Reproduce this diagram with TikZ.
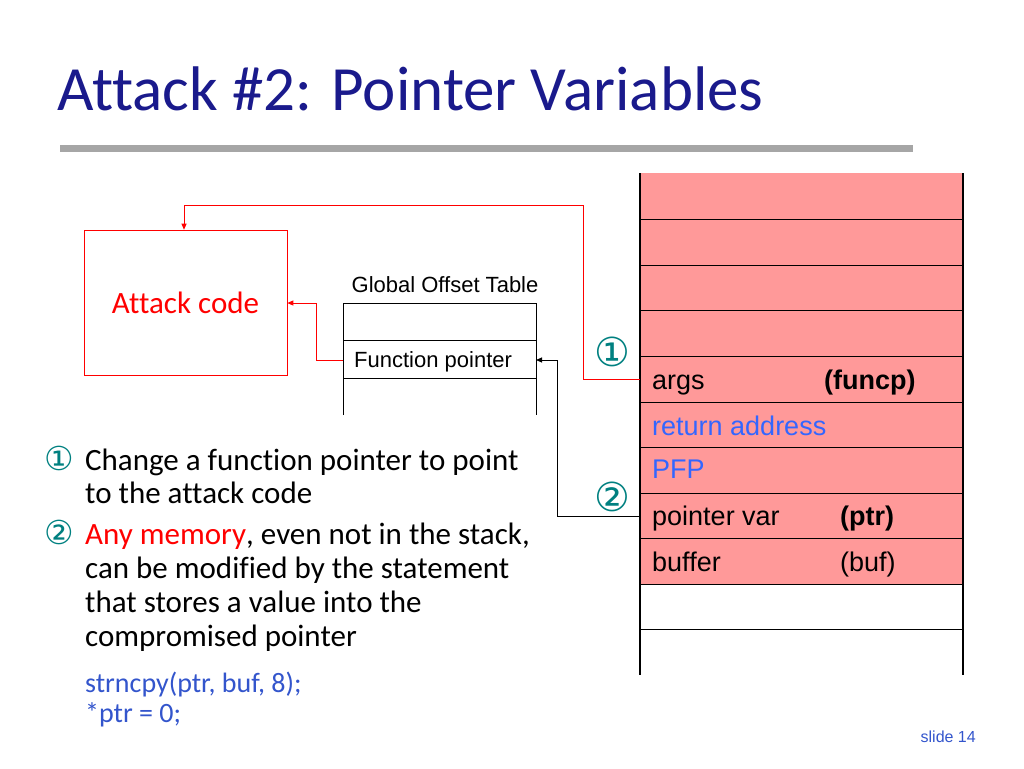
\documentclass[tikz,border=0pt]{standalone}
\usepackage{fontspec}
\setmainfont[Ligatures=NoCommon]{Carlito}
\newfontfamily\arial{Liberation Sans}
\newfontfamily\dvs{DejaVu Sans}
\usetikzlibrary{arrows.meta}
\definecolor{titleblue}{RGB}{26,26,140}
\definecolor{pinkfill}{RGB}{255,153,153}
\definecolor{teal2}{RGB}{0,128,128}
\definecolor{lblue}{RGB}{51,102,255}
\definecolor{codeblue}{RGB}{51,85,204}
\tikzset{
  redline/.style={draw=red,line width=0.9pt},
  blkline/.style={draw=black,line width=0.9pt},
  tip/.style={-{Triangle[length=6pt,width=5pt]}},
  stk/.style={font=\arial\fontsize{27}{28}\selectfont,anchor=base west,inner sep=0},
  stkb/.style={font=\arial\bfseries\fontsize{27}{28}\selectfont,anchor=base west,inner sep=0},
  blt/.style={font=\fontsize{31}{34}\selectfont,anchor=base west,inner sep=0},
  circ/.style={font=\dvs\fontsize{40}{40}\selectfont,text=teal2,inner sep=0},
  bcirc/.style={font=\dvs\fontsize{33}{33}\selectfont,text=teal2,inner sep=0,anchor=base west},
}
\begin{document}
\begin{tikzpicture}[x=1pt,y=-1pt]
\useasboundingbox (0,0) rectangle (1024,768);
\node[anchor=base west,font=\fontsize{63}{63}\selectfont,text=titleblue,inner sep=0] (title) at (57,110) {Attack \#2: Pointer Variables};
\fill[gray!70] (60,145) rectangle (913,152);
% stack
\fill[pinkfill] (640,173) rectangle (963,584);
\foreach \y in {219,265,310,356,402,447,493,538,584,629} \draw[line width=0.8pt] (640,\y) -- (963,\y);
\draw[line width=2.5pt] (640,173) -- (640,675) (963,173) -- (963,675);
\coordinate (sargs) at (640,379);
\coordinate (sptr) at (640,516);
\node[stk] (a1) at (652,389) {args};
\node[stkb] (a2) at (824,389) {(funcp)};
\node[stk,text=lblue] (a3) at (652,435) {return address};
\node[stk,text=lblue] (a4) at (652,478) {PFP};
\node[stk] (a5) at (652,525) {pointer var};
\node[stkb] (a6) at (840,525) {(ptr)};
\node[stk] (a7) at (652,571) {buffer};
\node[stk] (a8) at (840,571) {(buf)};
% attack code
\node[draw=red,line width=0.6pt,minimum width=203pt,minimum height=145pt,inner sep=0,
  font=\fontsize{31}{32}\selectfont,text=red] (atk) at (185.5,302.5) {Attack code};
% GOT
\node[font=\arial\fontsize{22}{24}\selectfont,anchor=base,inner sep=0] (gotl) at (445,292) {Global Offset Table};
\draw[line width=0.8pt] (343,415) -- (343,303) -- (536,303) -- (536,415);
\draw[line width=0.8pt] (343,340) -- (536,340) (343,378) -- (536,378);
\node[font=\arial\fontsize{22}{24}\selectfont,anchor=base west,inner sep=0] (fp) at (354,367) {Function pointer};
\coordinate (fpl) at (343,360);
\coordinate (fpr) at (536,360);
% connectors
\draw[redline,tip] (sargs) -- (583,379) -- (583,205) -- (184,205) -- (atk.north -| 184,0);
\draw[redline,tip] (fpl) -- (316,360) -- (316,303) -- (atk.east |- 0,303);
\draw[blkline,tip] (sptr) -- (557,516) -- (557,360) -- (fpr);
\node[circ] (c1) at (612,352) {①};
\node[circ] (c2) at (612,497) {②};
% bullets
\node[bcirc] (b1) at (44,470) {①};
\node[blt] (t1) at (85,470) {Change a function pointer to point};
\node[blt] (t2) at (85,503) {to the attack code};
\node[bcirc] (b2) at (44,544) {②};
\node[blt] (t3) at (85,544) {\textcolor{red}{Any memory}, even not in the stack,};
\node[blt] (t4) at (85,578) {can be modified by the statement};
\node[blt] (t5) at (85,612) {that stores a value into the};
\node[blt] (t6) at (85,646) {compromised pointer};
\node[blt,font=\fontsize{28}{30}\selectfont,text=codeblue] (k1) at (85,692) {strncpy(ptr, buf, 8);};
\node[blt,font=\fontsize{28}{30}\selectfont,text=codeblue] (k2) at (85,722) {*ptr = 0;};
\node[anchor=base east,font=\arial\fontsize{16}{16}\selectfont,text=codeblue,inner sep=0] (sl) at (976,742) {slide 14};
\end{tikzpicture}
\end{document}
